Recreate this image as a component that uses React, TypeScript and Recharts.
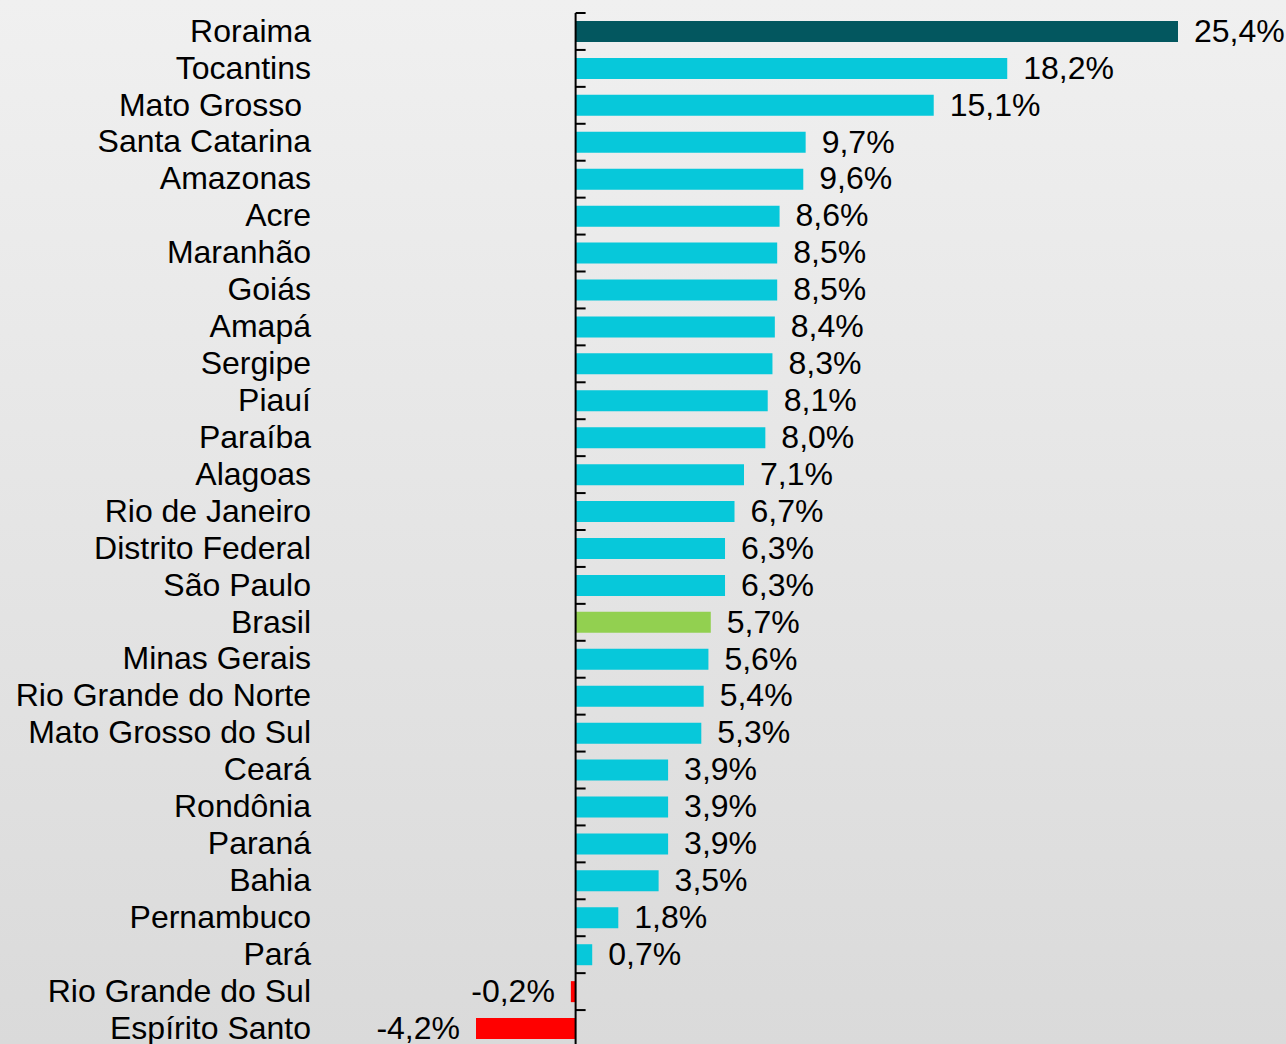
import { BarChart, Bar, XAxis, YAxis, Cell, LabelList, ReferenceLine } from 'recharts';

const states = [
  'Roraima', 'Tocantins', 'Mato Grosso ', 'Santa Catarina', 'Amazonas', 'Acre', 'Maranhão',
  'Goiás', 'Amapá', 'Sergipe', 'Piauí', 'Paraíba', 'Alagoas', 'Rio de Janeiro',
  'Distrito Federal', 'São Paulo', 'Brasil', 'Minas Gerais', 'Rio Grande do Norte',
  'Mato Grosso do Sul', 'Ceará', 'Rondônia', 'Paraná', 'Bahia', 'Pernambuco', 'Pará',
  'Rio Grande do Sul', 'Espírito Santo'
];
const growth = [
  25.4, 18.2, 15.1, 9.7, 9.6, 8.6, 8.5, 8.5, 8.4, 8.3, 8.1, 8.0, 7.1, 6.7,
  6.3, 6.3, 5.7, 5.6, 5.4, 5.3, 3.9, 3.9, 3.9, 3.5, 1.8, 0.7, -0.2, -4.2
];

const data = states.map((name, i) => ({ name, value: growth[i] }));

const W = 1286;
const H = 1047;
const MARGIN = { top: 13, right: 108, bottom: 0, left: 0 };
const Y_WIDTH = 476;
const DOMAIN: [number, number] = [-4.2, 25.4];
const FONT = '"Liberation Sans", Arial, sans-serif';

const plotW = W - MARGIN.left - MARGIN.right - Y_WIDTH;
const plotH = H - MARGIN.top - MARGIN.bottom;
const band = plotH / data.length;
const zeroX = MARGIN.left + Y_WIDTH + ((0 - DOMAIN[0]) / (DOMAIN[1] - DOMAIN[0])) * plotW;

const fmt = (v: number) => v.toFixed(1).replace('.', ',') + '%';

function barColor(name: string, value: number, i: number) {
  if (value < 0) return '#FF0000';
  if (name === 'Brasil') return '#92D050';
  if (i === 0) return '#03575F';
  return '#07C8DA';
}

function CategoryTick(props: any) {
  const { x, y, payload } = props;
  const top = y - band / 2;
  return (
    <g>
      <line x1={zeroX} x2={zeroX + 10} y1={top} y2={top} stroke="#000" strokeWidth={2} />
      <text
        x={x}
        y={y}
        dy="0.32em"
        textAnchor="end"
        fill="#000"
        fontSize={32}
        fontFamily={FONT}
        style={{ whiteSpace: 'pre' }}
      >
        {payload.value}
      </text>
    </g>
  );
}

function ValueLabel(props: any) {
  const { x, y, width, height, value } = props;
  const left = Math.min(x, x + width);
  const right = Math.max(x, x + width);
  const neg = value < 0;
  return (
    <text
      x={neg ? left - 16 : right + 16}
      y={y + height / 2}
      dy="0.32em"
      textAnchor={neg ? 'end' : 'start'}
      fill="#000"
      fontSize={32}
      fontFamily={FONT}
    >
      {fmt(value)}
    </text>
  );
}

export default function App() {
  return (
    <div
      style={{
        position: 'absolute',
        left: 0,
        top: 0,
        width: W,
        height: 1044,
        overflow: 'hidden',
        background: 'linear-gradient(#f0f0f0, #dadada)'
      }}
    >
      <BarChart width={W} height={H} data={data} layout="vertical" margin={MARGIN}>
        <XAxis type="number" domain={DOMAIN} hide allowDataOverflow />
        <YAxis
          type="category"
          dataKey="name"
          width={Y_WIDTH}
          interval={0}
          axisLine={false}
          tickLine={false}
          tickSize={0}
          tickMargin={165}
          tick={(p: any) => <CategoryTick {...p} />}
        />
        <Bar dataKey="value" barSize={21} isAnimationActive={false}>
          {data.map((d, i) => (
            <Cell key={d.name} fill={barColor(d.name, d.value, i)} />
          ))}
          <LabelList dataKey="value" content={(p: any) => <ValueLabel {...p} />} />
        </Bar>
        <ReferenceLine x={0} stroke="#000" strokeWidth={2} />
      </BarChart>
    </div>
  );
}
